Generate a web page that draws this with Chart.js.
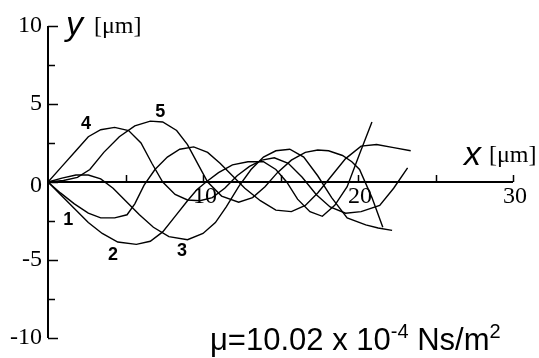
<!DOCTYPE html>
<html lang="en">
<head>
<meta charset="UTF-8">
<title>Flagellar waveform</title>
<script src="https://cdn.jsdelivr.net/npm/chart.js"></script>
<style>
  body { margin: 0; background: #fff; }
  #box { width: 539px; height: 358px; }
</style>
</head>
<body>
<div id="box"><canvas id="wave" width="539" height="358"></canvas></div>
<script>
// successive shapes of the flagellum, x and y in µm
const x1 = [0, 0.8, 1.7, 2.6, 3.4, 4.3, 5.1, 5.6, 6.2, 6.9, 7.7, 8.5, 9.4, 10.3, 11.1, 11.9, 12.7, 13.7, 14.7, 15.7, 16.6, 17.4, 18.3, 19.2, 20.2, 21.2, 22.3, 23.4];
const y1 = [0, -0.7, -1.4, -2.0, -2.3, -2.3, -2.1, -1.4, -0.2, 0.8, 1.6, 2.1, 2.25, 1.9, 1.2, 0.4, -0.4, -1.2, -1.8, -1.9, -1.5, -0.7, 0.4, 1.5, 2.3, 2.4, 2.2, 2.0];

const x2 = [0, 0.8, 1.7, 2.6, 3.5, 4.5, 5.7, 6.6, 7.4, 8.2, 9.0, 9.6, 10.2, 11.0, 11.9, 12.9, 13.9, 14.7, 15.4, 16.1, 16.9, 17.7, 18.5, 19.3, 20.1, 20.9];
const y2 = [0, -0.8, -1.7, -2.6, -3.3, -3.85, -4.0, -3.8, -3.2, -2.2, -1.2, -0.5, 0.0, 0.6, 1.1, 1.3, 1.3, 0.8, 0.0, -1.1, -1.9, -2.2, -1.5, -0.3, 1.8, 3.85];

const x3 = [0, 0.9, 1.8, 2.6, 3.4, 4.2, 5.0, 5.9, 6.8, 7.8, 9.0, 10.0, 10.8, 11.5, 12.3, 13.1, 13.9, 14.7, 15.6, 16.5, 17.4, 18.3, 19.3, 20.5, 21.3, 22.2];
const y3 = [0, 0.25, 0.45, 0.45, 0.2, -0.4, -1.2, -2.1, -2.9, -3.5, -3.7, -3.3, -2.6, -1.6, -0.3, 0.8, 1.6, 2.0, 2.1, 1.6, 0.4, -1.0, -2.3, -2.75, -2.95, -3.1];

const x4 = [0, 0.9, 1.8, 2.6, 3.4, 4.3, 5.2, 6.0, 6.7, 7.4, 8.2, 9.0, 9.8, 10.6, 11.4, 12.2, 13.0, 13.8, 14.6, 15.5, 16.4, 17.3, 18.2, 19.2, 20.2, 21.4, 22.3, 23.2];
const y4 = [0, 1.0, 2.0, 2.9, 3.35, 3.5, 3.3, 2.5, 1.2, 0.0, -0.8, -1.15, -1.2, -1.0, -0.4, 0.4, 1.0, 1.4, 1.55, 1.2, 0.3, -0.8, -1.6, -2.0, -1.9, -1.5, -0.4, 0.9];

const x5 = [0, 1.0, 1.9, 2.7, 3.6, 4.6, 5.6, 6.6, 7.4, 8.3, 9.0, 9.7, 10.3, 11.2, 12.3, 13.2, 14.0, 14.8, 15.7, 16.6, 17.4, 18.1, 19.0, 19.6, 20.1, 20.9, 21.6];
const y5 = [0, 0.1, 0.3, 0.8, 1.9, 2.9, 3.6, 3.9, 3.85, 3.3, 2.4, 1.1, 0.0, -0.9, -1.3, -1.0, -0.3, 0.6, 1.4, 1.9, 2.05, 2.0, 1.7, 1.3, 0.8, -1.0, -2.9];

// curve numbers and where they sit
const curveNames = ['1', '2', '3', '4', '5'];
const nameX = [1.3, 4.2, 8.65, 2.45, 7.25];
const nameY = [-2.45, -4.7, -4.4, 3.7, 4.5];

// axis ticks
const xTicks = [0, 5, 10, 15, 20, 25, 30];
const xTickLabels = ['', '', '10', '', '20', '', '30'];
const yTicks = [-10, -7.5, -5, -2.5, 0, 2.5, 5, 7.5, 10];
const yTickLabels = ['-10', '', '-5', '', '0', '', '5', '', '10'];

function pts(xs, ys) {
  return xs.map((x, i) => ({ x: x, y: ys[i] }));
}

const serif = '"Liberation Serif", "Times New Roman", serif';
const sans = '"Liberation Sans", Arial, sans-serif';

// hand-drawn axes crossing at the origin, plus all the lettering
const axesPlugin = {
  id: 'axesPlugin',
  afterDatasetsDraw(chart) {
    const ctx = chart.ctx;
    const xs = chart.scales.x, ys = chart.scales.y;
    const x0 = xs.getPixelForValue(0), y0 = ys.getPixelForValue(0);
    ctx.save();
    ctx.strokeStyle = '#000';
    ctx.fillStyle = '#000';
    ctx.lineWidth = 2;

    ctx.beginPath();
    ctx.moveTo(x0, ys.getPixelForValue(-10));
    ctx.lineTo(x0, ys.getPixelForValue(10));
    ctx.moveTo(x0, y0);
    ctx.lineTo(xs.getPixelForValue(30), y0);
    ctx.stroke();

    ctx.lineWidth = 1.5;
    ctx.beginPath();
    yTicks.forEach((v, i) => {
      const py = Math.round(ys.getPixelForValue(v)) + 0.5;
      const len = yTickLabels[i] ? 10 : 7;
      ctx.moveTo(x0, py);
      ctx.lineTo(x0 + len, py);
    });
    xTicks.forEach((v) => {
      if (v === 0) return;
      const px = Math.round(xs.getPixelForValue(v)) + 0.5;
      ctx.moveTo(px, y0);
      ctx.lineTo(px, y0 - 7);
    });
    ctx.stroke();

    ctx.font = '24px ' + serif;
    ctx.textAlign = 'right';
    ctx.textBaseline = 'middle';
    yTicks.forEach((v, i) => {
      if (!yTickLabels[i]) return;
      const off = v === 0 ? 4 : 0;
      ctx.fillText(yTickLabels[i], x0 - 6, ys.getPixelForValue(v) + off);
    });
    ctx.textAlign = 'center';
    ctx.textBaseline = 'top';
    xTicks.forEach((v, i) => {
      if (!xTickLabels[i]) return;
      ctx.fillText(xTickLabels[i], xs.getPixelForValue(v) + 2, y0 + 3);
    });

    // axis titles
    ctx.textAlign = 'left';
    ctx.textBaseline = 'alphabetic';
    ctx.font = 'italic 34px ' + sans;
    ctx.fillText('y', 66, 35);
    ctx.fillText('x', 464, 165);
    ctx.font = '24px ' + serif;
    ctx.fillText('[μm]', 94, 33);
    ctx.fillText('[μm]', 489, 162);

    // curve numbers
    ctx.font = 'bold 18px ' + sans;
    ctx.textAlign = 'center';
    ctx.textBaseline = 'middle';
    curveNames.forEach((n, i) => {
      ctx.fillText(n, xs.getPixelForValue(nameX[i]), ys.getPixelForValue(nameY[i]));
    });

    // viscosity note
    ctx.textAlign = 'left';
    ctx.textBaseline = 'alphabetic';
    let tx = 210;
    const base = 350;
    const part = (s, size, dy) => {
      ctx.font = size + 'px ' + sans;
      ctx.fillText(s, tx, base + dy);
      tx += ctx.measureText(s).width;
    };
    part('μ=10.02 x 10', 31, 0);
    part('-4', 20, -12);
    part(' Ns/m', 31, 0);
    part('2', 20, -12);
    ctx.restore();
  }
};

const line = { borderColor: '#000', borderWidth: 1.4, pointRadius: 0, tension: 0, fill: false };

new Chart(document.getElementById('wave'), {
  type: 'scatter',
  data: {
    datasets: [
      Object.assign({ label: '1', data: pts(x1, y1), showLine: true }, line),
      Object.assign({ label: '2', data: pts(x2, y2), showLine: true }, line),
      Object.assign({ label: '3', data: pts(x3, y3), showLine: true }, line),
      Object.assign({ label: '4', data: pts(x4, y4), showLine: true }, line),
      Object.assign({ label: '5', data: pts(x5, y5), showLine: true }, line)
    ]
  },
  options: {
    responsive: false,
    animation: false,
    layout: { padding: { left: 48, right: 26, top: 26, bottom: 20 } },
    scales: {
      x: { type: 'linear', min: 0, max: 30, display: false },
      y: { type: 'linear', min: -10, max: 10, display: false }
    },
    plugins: { legend: { display: false }, tooltip: { enabled: false } }
  },
  plugins: [axesPlugin]
});
</script>
</body>
</html>
